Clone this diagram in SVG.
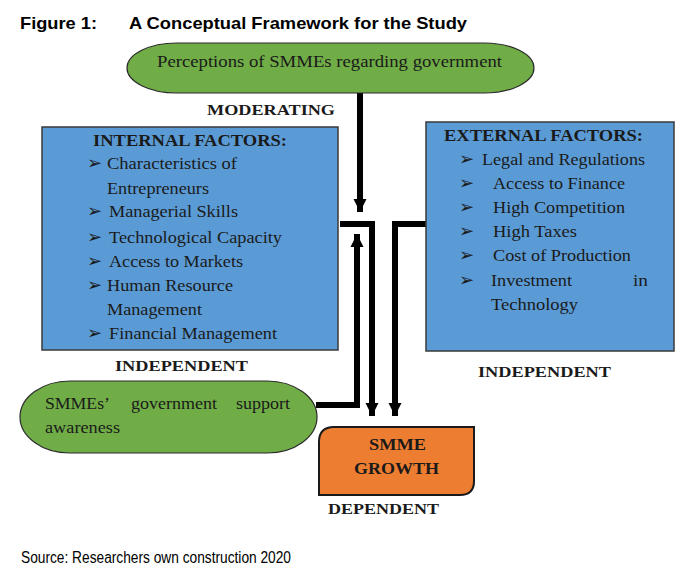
<svg xmlns="http://www.w3.org/2000/svg" width="685" height="578" viewBox="0 0 685 578">
<style>
.t{font-family:"Liberation Serif","Times New Roman",serif;fill:#1a1a1a}
.h{font-family:"Liberation Serif","Times New Roman",serif;font-weight:bold;fill:#1a1a1a}
.a{font-family:"Liberation Sans",Arial,sans-serif;fill:#000}
.it{font-size:16px}
.b{font-family:"Liberation Serif","Times New Roman",serif;font-size:18px;fill:#1a1a1a}
.green{fill:#70AD47;stroke:#2b2b2b;stroke-width:1.2}
.blue{fill:#5B9BD5;stroke:#3a3a3a;stroke-width:1.5}
.orange{fill:#ED7D31;stroke:#1a1a1a;stroke-width:2}
.ln{fill:none;stroke:#000;stroke-width:6}
</style>
<defs>
<marker id="ah" viewBox="0 0 10 10" refX="10" refY="5" markerWidth="2.2" markerHeight="2.2" orient="auto" markerUnits="strokeWidth">
<path d="M0,0 L10,5 L0,10 z" fill="#000"/>
</marker>
</defs>
<rect width="685" height="578" fill="#fff"/>
<text class="a" x="20" y="29" font-size="17" font-weight="bold" textLength="77" lengthAdjust="spacingAndGlyphs">Figure 1:</text>
<text class="a" x="129" y="29" font-size="17" font-weight="bold" textLength="338" lengthAdjust="spacingAndGlyphs">A Conceptual Framework for the Study</text>

<g id="connectors">
<path class="ln" d="M360,93 V212" marker-end="url(#ah)"/>
<path class="ln" d="M340,224 H375"/>
<path class="ln" d="M372,224 V416" marker-end="url(#ah)"/>
<path class="ln" d="M316,405 H357 V234" marker-end="url(#ah)"/>
<path class="ln" d="M426,224 H395 V416" marker-end="url(#ah)"/>
</g>

<g id="moderator">
<rect class="green" x="127" y="43" width="407" height="50" rx="50" ry="25"/>
<text class="t" x="157" y="67" font-size="16" textLength="345" lengthAdjust="spacingAndGlyphs">Perceptions of SMMEs regarding government</text>
</g>
<text class="h" x="207" y="115" font-size="14" textLength="128" lengthAdjust="spacingAndGlyphs">MODERATING</text>

<g id="internal">
<rect class="blue" x="42" y="127" width="296" height="223"/>
<text class="h" x="93" y="146" font-size="16" textLength="194" lengthAdjust="spacingAndGlyphs">INTERNAL FACTORS:</text>
<g class="b">
<text x="87" y="169">➢</text>
<text x="87" y="217">➢</text>
<text x="87" y="243">➢</text>
<text x="87" y="267">➢</text>
<text x="87" y="291">➢</text>
<text x="87" y="339">➢</text>
</g>
<g class="t it">
<text x="107" y="169" textLength="130" lengthAdjust="spacingAndGlyphs">Characteristics of</text>
<text x="107" y="194" textLength="102" lengthAdjust="spacingAndGlyphs">Entrepreneurs</text>
<text x="109" y="217" textLength="129" lengthAdjust="spacingAndGlyphs">Managerial Skills</text>
<text x="109" y="243" textLength="173" lengthAdjust="spacingAndGlyphs">Technological Capacity</text>
<text x="109" y="267" textLength="134" lengthAdjust="spacingAndGlyphs">Access to Markets</text>
<text x="107" y="291" textLength="126" lengthAdjust="spacingAndGlyphs">Human Resource</text>
<text x="107" y="315" textLength="95" lengthAdjust="spacingAndGlyphs">Management</text>
<text x="109" y="339" textLength="168" lengthAdjust="spacingAndGlyphs">Financial Management</text>
</g>
</g>
<text class="h" x="115" y="371" font-size="14" textLength="133" lengthAdjust="spacingAndGlyphs">INDEPENDENT</text>

<g id="external">
<rect class="blue" x="426" y="122" width="248" height="229"/>
<text class="h" x="444" y="141" font-size="16" textLength="199" lengthAdjust="spacingAndGlyphs">EXTERNAL FACTORS:</text>
<g class="b">
<text x="459" y="165">➢</text>
<text x="459" y="189">➢</text>
<text x="459" y="213">➢</text>
<text x="459" y="237">➢</text>
<text x="459" y="261">➢</text>
<text x="459" y="286">➢</text>
</g>
<g class="t it">
<text x="482" y="165" textLength="163" lengthAdjust="spacingAndGlyphs">Legal and Regulations</text>
<text x="493" y="189" textLength="132" lengthAdjust="spacingAndGlyphs">Access to Finance</text>
<text x="493" y="213" textLength="132" lengthAdjust="spacingAndGlyphs">High Competition</text>
<text x="493" y="237" textLength="84" lengthAdjust="spacingAndGlyphs">High Taxes</text>
<text x="493" y="261" textLength="138" lengthAdjust="spacingAndGlyphs">Cost of Production</text>
<text x="491" y="286" textLength="81" lengthAdjust="spacingAndGlyphs">Investment</text><text x="633" y="286" textLength="15" lengthAdjust="spacingAndGlyphs">in</text>
<text x="491" y="310" textLength="87" lengthAdjust="spacingAndGlyphs">Technology</text>
</g>
</g>
<text class="h" x="478" y="377" font-size="14" textLength="133" lengthAdjust="spacingAndGlyphs">INDEPENDENT</text>

<g id="awareness">
<rect class="green" x="20" y="381" width="297" height="72" rx="50" ry="36"/>
<g class="t it">
<text x="45" y="409" textLength="65" lengthAdjust="spacingAndGlyphs">SMMEs’</text>
<text x="131" y="409" textLength="86" lengthAdjust="spacingAndGlyphs">government</text>
<text x="236" y="409" textLength="54" lengthAdjust="spacingAndGlyphs">support</text>
<text x="45" y="433" textLength="75" lengthAdjust="spacingAndGlyphs">awareness</text>
</g>
</g>

<g id="growth">
<path class="orange" d="M334,427 H474 V481 Q474,495 460,495 H319 V442 Q319,427 334,427 Z"/>
<text class="h" x="369" y="450" font-size="16" textLength="57" lengthAdjust="spacingAndGlyphs">SMME</text>
<text class="h" x="354" y="474" font-size="16" textLength="85" lengthAdjust="spacingAndGlyphs">GROWTH</text>
</g>
<text class="h" x="328" y="514" font-size="14" textLength="111" lengthAdjust="spacingAndGlyphs">DEPENDENT</text>

<text class="a" x="21" y="563" font-size="16" textLength="270" lengthAdjust="spacingAndGlyphs">Source: Researchers own construction 2020</text>
</svg>
